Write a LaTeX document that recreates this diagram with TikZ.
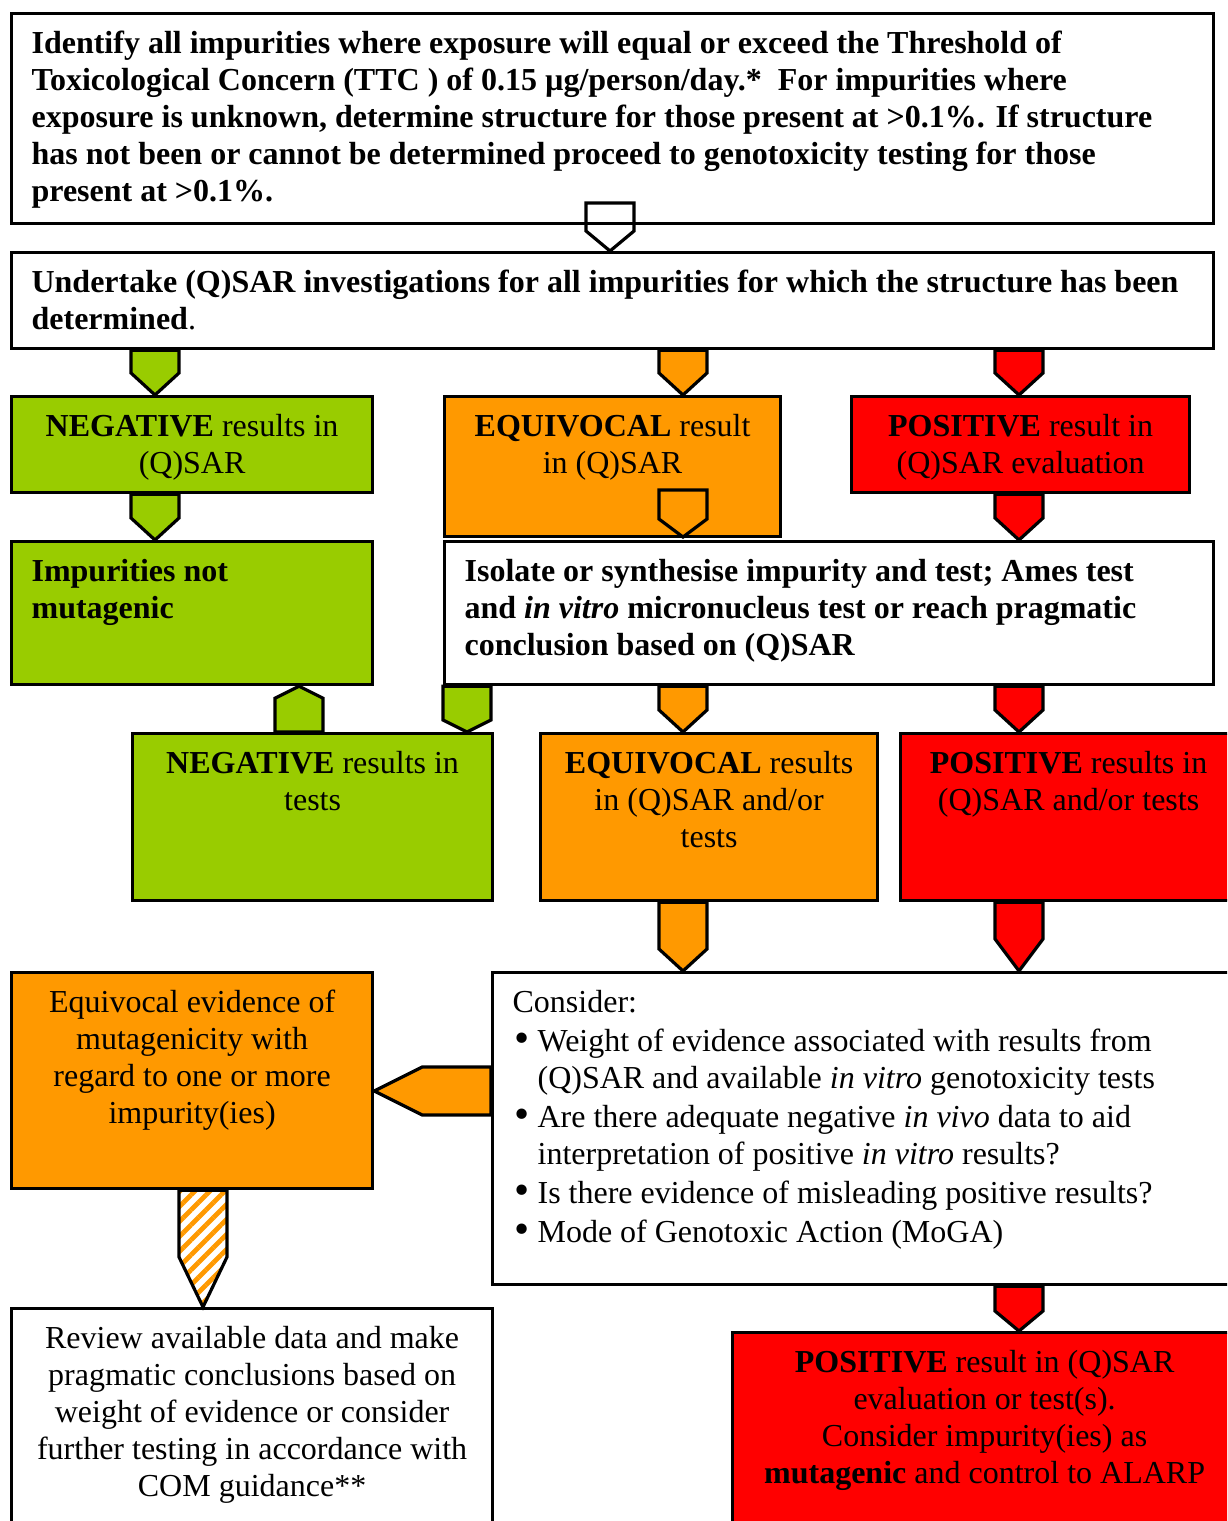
\documentclass[tikz,border=0pt]{standalone}
\usepackage{fontspec}
\setmainfont{Liberation Serif}
\usetikzlibrary{calc,patterns.meta}

\definecolor{gfill}{RGB}{153,204,0}
\definecolor{ofill}{RGB}{255,153,0}
\definecolor{rfill}{RGB}{255,0,0}

\tikzset{
  box/.style={draw, line width=1.6pt, anchor=north west, inner sep=0pt,
    font=\fontsize{16}{18.5}\selectfont},
  blk/.style={draw, line width=1.6pt, line join=miter},
  hatch/.style={pattern={Lines[angle=45,distance=5.3pt,line width=2.4pt]},
    pattern color=ofill}
}

% box texts: width, height, text
\newcommand{\lbox}[3]{\parbox[t][#2][t]{#1}{\vspace*{7pt}\raggedright\leftskip=10pt\strut#3}}
\newcommand{\cbox}[3]{\parbox[t][#2][t]{#1}{\vspace*{7pt}\centering\strut#3}}
\newcommand{\bul}{\hspace*{1pt}\makebox[11.5pt][l]{\raisebox{-0.3pt}{\scalebox{1.35}{\textbullet}}}}

% block arrow: style, head length, from, to
\newcommand{\blkarrow}[4]{%
  \path #3 coordinate (ba) #4 coordinate (bb);
  \coordinate (bc) at ($(bb)!#2!(ba)$);
  \draw[blk, #1] ($(ba)!12pt!90:(bb)$) -- ($(bc)!12pt!-90:(ba)$) -- (bb)
    -- ($(bc)!12pt!90:(ba)$) -- ($(ba)!12pt!-90:(bb)$) -- cycle;}

\begin{document}
\begin{tikzpicture}[x=0.5pt, y=-0.5pt]
  \useasboundingbox (0,0) rectangle (1227,1521);
  \clip (0,0) rectangle (1227,1521);

  % First stage
  \node[box] (ttc) at (10,12) {\lbox{601pt}{105pt}{\bfseries Identify all impurities where exposure will equal or exceed the Threshold of\\
    Toxicological Concern (TTC ) of 0.15 µg/person/day.*\ \ For impurities where\\
    exposure is unknown, determine structure for those present at >0.1\%. If structure\\
    has not been or cannot be determined proceed to genotoxicity testing for those\\
    present at >0.1\%.}};

  % Second stage
  \node[box] (qsar) at (10,251) {\lbox{601pt}{48pt}{\textbf{Undertake (Q)SAR investigations for all impurities for which the structure has been\\
    determined}.}};

  % (Q)SAR results
  \node[box, fill=gfill] (neg1) at (10,395) {\cbox{180.5pt}{48pt}{\textbf{NEGATIVE} results in\\ (Q)SAR}};
  \node[box, fill=ofill] (equiv1) at (443,395) {\cbox{168pt}{70pt}{\textbf{EQUIVOCAL} result\\ in (Q)SAR}};
  \node[box, fill=rfill] (pos1) at (850,395) {\cbox{169pt}{48pt}{\textbf{POSITIVE} result in\\ (Q)SAR evaluation}};

  % Third stage
  \node[box, fill=gfill] (notmut) at (10,540) {\lbox{180.5pt}{71.5pt}{\bfseries Impurities not\\ mutagenic}};
  \node[box, fill=white] (isolate) at (443,540) {\lbox{384.5pt}{71.5pt}{\bfseries Isolate or synthesise impurity and test; Ames test\\
    and \textit{in vitro} micronucleus test or reach pragmatic\\
    conclusion based on (Q)SAR}};

  % Test results
  \node[box, fill=gfill] (neg2) at (131,732) {\cbox{180pt}{83.5pt}{\textbf{NEGATIVE} results in\\ tests}};
  \node[box, fill=ofill] (equiv2) at (539,732) {\cbox{168.5pt}{83.5pt}{\textbf{EQUIVOCAL} results\\ in (Q)SAR and/or\\ tests}};
  \node[box, fill=rfill] (pos2) at (899,732) {\cbox{168pt}{83.5pt}{\textbf{POSITIVE} results in\\ (Q)SAR and/or tests}};

  % Fourth stage
  \node[box, fill=ofill] (equivev) at (10,971) {\cbox{180.5pt}{108pt}{Equivocal evidence of\\ mutagenicity with\\ regard to one or more\\ impurity(ies)}};
  \node[box, fill=white] (consider) at (491,971) {\lbox{372pt}{156pt}{Consider:\\[1pt]
    \bul Weight of evidence associated with results from\\
    \hspace*{12.5pt}(Q)SAR and available \textit{in vitro} genotoxicity tests\\[1pt]
    \bul Are there adequate negative \textit{in vivo} data to aid\\
    \hspace*{12.5pt}interpretation of positive \textit{in vitro} results?\\[1pt]
    \bul Is there evidence of misleading positive results?\\[1pt]
    \bul Mode of Genotoxic Action (MoGA)}};

  % Final stage
  \node[box, fill=white] (review) at (10,1307) {\cbox{240.5pt}{120pt}{Review available data and make\\ pragmatic conclusions based on\\ weight of evidence or consider\\ further testing in accordance with\\ COM guidance**}};
  \node[box, fill=rfill] (pos3) at (731,1331) {\cbox{252pt}{100pt}{\textbf{POSITIVE} result in (Q)SAR\\ evaluation or test(s).\\ Consider impurity(ies) as\\ \textbf{mutagenic} and control to ALARP}};

  % Arrow positions
  \coordinate (xm) at (610,0);
  \coordinate (xg) at (155,0);
  \coordinate (xo) at (683,0);
  \coordinate (xr) at (1019,0);
  \coordinate (xu) at (299,0);
  \coordinate (xv) at (467,0);
  \coordinate (xh) at (203,0);
  \coordinate (yl) at (0,1091);

  % Arrows
  \blkarrow{fill=none}{10pt}{($(xm |- qsar.north)+(0,-48)$)}{(xm |- qsar.north)}
  \blkarrow{fill=gfill}{11pt}{(xg |- qsar.south)}{(xg |- neg1.north)}
  \blkarrow{fill=ofill}{11pt}{(xo |- qsar.south)}{(xo |- equiv1.north)}
  \blkarrow{fill=rfill}{11pt}{(xr |- qsar.south)}{(xr |- pos1.north)}
  \blkarrow{fill=gfill}{11pt}{(xg |- neg1.south)}{(xg |- notmut.north)}
  \blkarrow{fill=none}{9pt}{($(xo |- isolate.north)+(0,-50)$)}{($(xo |- isolate.north)+(0,-3)$)}
  \blkarrow{fill=rfill}{11pt}{(xr |- pos1.south)}{(xr |- isolate.north)}
  \blkarrow{fill=gfill}{6pt}{(xu |- neg2.north)}{(xu |- notmut.south)}
  \blkarrow{fill=gfill}{6pt}{(xv |- isolate.south)}{(xv |- neg2.north)}
  \blkarrow{fill=ofill}{11pt}{(xo |- isolate.south)}{(xo |- equiv2.north)}
  \blkarrow{fill=rfill}{11pt}{(xr |- isolate.south)}{(xr |- pos2.north)}
  \blkarrow{fill=ofill}{11pt}{(xo |- equiv2.south)}{(xo |- consider.north)}
  \blkarrow{fill=rfill}{16pt}{(xr |- pos2.south)}{(xr |- consider.north)}
  \blkarrow{fill=ofill}{24pt}{(consider.west |- yl)}{(equivev.east |- yl)}
  \blkarrow{hatch}{25pt}{(xh |- equivev.south)}{(xh |- review.north)}
  \blkarrow{fill=rfill}{10pt}{(xr |- consider.south)}{(xr |- pos3.north)}
\end{tikzpicture}
\end{document}
